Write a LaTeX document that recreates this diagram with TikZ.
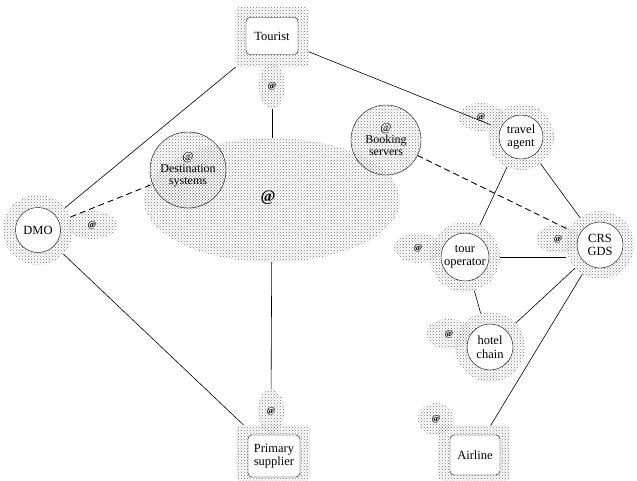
\documentclass[tikz,border=0pt]{standalone}
\usepackage{fontspec}
\setmainfont{Liberation Serif}
\usetikzlibrary{patterns,shapes.geometric}
\begin{document}
\begin{tikzpicture}[x=1pt, y=-1pt, font=\fontsize{12.5}{13.5}\selectfont,
    halo/.style={pattern=crosshatch dots, pattern color=black!55, inner sep=0pt, outer sep=0pt},
    agent/.style={circle, draw, fill=white, align=center, inner sep=0pt, minimum size=45pt},
    firm/.style={rectangle, rounded corners=4pt, draw, fill=white, align=center, inner sep=1pt},
    tail/.style={halo, ellipse, font=\fontsize{9}{9}\selectfont\bfseries},
    web/.style={circle, draw, halo, align=center, inner sep=0pt, font=\fontsize{12}{12}\selectfont},
    link/.style={line width=0.6pt},
    weblink/.style={line width=0.9pt, dashed, dash pattern=on 6pt off 4pt}]
    \useasboundingbox (0,0) rectangle (637,480);
    % internet cloud
    \node[halo, ellipse, minimum width=256pt, minimum height=124pt] (net) at (272,200) {};
    \node[font=\fontsize{16}{16}\selectfont\bfseries] (netat) at (268,198) {@};
    \node[web, minimum size=76pt] (dest) at (188,170) {@\\Destination\\systems};
    \node[web, minimum size=70pt] (book) at (386,140) {@\\Booking\\servers};
    % halos and tails
    \node[halo, rectangle, rounded corners=4pt, minimum width=73pt, minimum height=60pt] (touristH) at (272,37) {};
    \node[tail, minimum width=26pt, minimum height=46pt] (touristT) at (272,86) {@};
    \node[halo, rectangle, rounded corners=4pt, minimum width=74pt, minimum height=56pt] (supplierH) at (273,453) {};
    \node[tail, minimum width=26pt, minimum height=44pt] (supplierT) at (271,411) {@};
    \node[halo, rectangle, rounded corners=4pt, minimum width=72pt, minimum height=55pt] (airlineH) at (474,453) {};
    \node[tail, minimum width=36pt, minimum height=32pt] (airlineT) at (436,419) {@};
    \node[halo, circle, minimum size=70pt] (dmoH) at (38,230) {};
    \node[tail, minimum width=50pt, minimum height=28pt] (dmoT) at (92,225) {@};
    \node[halo, circle, minimum size=66pt] (agentH) at (521,137) {};
    \node[tail, minimum width=46pt, minimum height=28pt] (agentT) at (481,117) {@};
    \node[halo, circle, minimum size=68pt] (crsH) at (600,245) {};
    \node[tail, minimum width=44pt, minimum height=28pt] (crsT) at (558,239) {@};
    \node[halo, circle, minimum size=70pt] (opH) at (465,257) {};
    \node[tail, minimum width=48pt, minimum height=30pt] (opT) at (418,248) {@};
    \node[halo, circle, minimum size=70pt] (hotelH) at (490,347) {};
    \node[tail, minimum width=46pt, minimum height=30pt] (hotelT) at (449,334) {@};
    % actors
    \node[firm, minimum width=52pt, minimum height=37pt] (tourist) at (272,36) {Tourist};
    \node[firm, minimum width=52pt, minimum height=42pt] (supplier) at (274,456) {Primary\\supplier};
    \node[firm, minimum width=50pt, minimum height=40pt] (airline) at (475,455) {Airline};
    \node[agent] (dmo) at (38,230) {DMO};
    \node[agent, minimum size=44pt] (agent) at (521,137) {travel\\agent};
    \node[agent, minimum size=46pt] (crs) at (600,245) {CRS\\GDS};
    \node[agent, minimum size=48pt] (op) at (465,257) {tour\\operator};
    \node[agent, minimum size=46pt] (hotel) at (490,347) {hotel\\chain};
    % links
    \draw[link] (touristH) -- (dmoH);
    \draw[link] (touristH) -- (agentH);
    \draw[link] (touristT) -- (net);
    \draw[link] (net) -- (supplierT);
    \draw[link] (dmoH) -- (supplierH);
    \draw[weblink] (dmoH) -- (dest);
    \draw[weblink] (book) -- (crsH);
    \draw[link] (agentH) -- (opH);
    \draw[link] (agentH) -- (crsH);
    \draw[link] (opH.east) -- (opH.east -| crsH.west);
    \draw[link] (opH) -- (hotelH);
    \draw[link] (hotelH) -- (crsH);
    \draw[link] (crsH) -- (airlineH);
\end{tikzpicture}
\end{document}
